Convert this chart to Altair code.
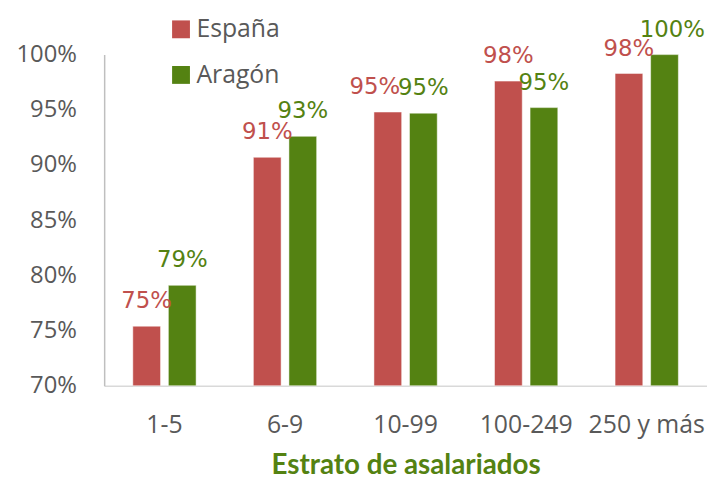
import altair as alt
import pandas as pd

categorias = ["1-5", "6-9", "10-99", "100-249", "250 y más"]
espana = [0.754, 0.907, 0.948, 0.976, 0.983]
aragon = [0.791, 0.926, 0.947, 0.952, 1.0]
series = ["España", "Aragón"]
colores = ["#C0504D", "#548212"]
ticks_y = [0.70, 0.75, 0.80, 0.85, 0.90, 0.95, 1.00]

rows = []
for i, c in enumerate(categorias):
    rows.append({"estrato": c, "serie": series[0], "valor": espana[i]})
    rows.append({"estrato": c, "serie": series[1], "valor": aragon[i]})
df = pd.DataFrame(rows)

x_enc = alt.X(
    "estrato:N",
    sort=categorias,
    scale=alt.Scale(paddingInner=0.475, paddingOuter=0.2375),
    axis=alt.Axis(
        title="Estrato de asalariados",
        labelAngle=0,
        ticks=False,
        domainColor="#D9D9D9",
        domainWidth=1.5,
        labelFont="Open Sans",
        labelFontSize=25,
        labelColor="#595959",
        labelPadding=27,
        titleFont="Lato",
        titleFontSize=28,
        titleFontWeight="bold",
        titleColor="#548212",
        titlePadding=14,
    ),
)
xoff = alt.XOffset("serie:N", sort=series, scale=alt.Scale(paddingInner=0.22, paddingOuter=0))
y_enc = alt.Y(
    "valor:Q",
    scale=alt.Scale(domain=[0.7, 1.0], nice=False, zero=False),
    axis=alt.Axis(
        format=".0%",
        values=ticks_y,
        grid=False,
        ticks=False,
        domainColor="#BFBFBF",
        domainWidth=1.5,
        labelFont="Open Sans",
        labelFontSize=24,
        labelColor="#595959",
        labelPadding=28,
        title=None,
    ),
)
color_scale = alt.Scale(domain=series, range=colores)

bars = alt.Chart(df).mark_bar(stroke="#FFFFFF", strokeOpacity=0.5, strokeWidth=1).encode(
    x=x_enc,
    xOffset=xoff,
    y=y_enc,
    y2=alt.datum(0.7),
    color=alt.Color(
        "serie:N",
        sort=series,
        scale=color_scale,
        legend=alt.Legend(
            title=None,
            orient="none",
            legendX=65,
            legendY=-38,
            symbolType="square",
            symbolSize=324,
            symbolStrokeWidth=0,
            labelFont="Open Sans",
            labelFontSize=25,
            labelColor="#595959",
            labelOffset=3,
            rowPadding=20,
            padding=0,
        ),
    ),
)


def etiquetas(filtro, dx):
    return (
        alt.Chart(df)
        .transform_filter(filtro)
        .mark_text(font="DejaVu Sans", fontSize=23, baseline="alphabetic", dy=-18, dx=dx)
        .encode(
            x=alt.X("estrato:N", sort=categorias),
            xOffset=alt.XOffset("serie:N", sort=series),
            y=alt.Y("valor:Q"),
            text=alt.Text("valor:Q", format=".0%"),
            color=alt.Color("serie:N", sort=series, scale=color_scale, legend=None),
        )
    )


izq = "datum.estrato == '10-99' && datum.serie == 'España'"
der = "datum.estrato == '250 y más' && datum.serie == 'Aragón'"
labels_normal = etiquetas(f"!({izq}) && !({der})", 0)
labels_izq = etiquetas(izq, -13)
labels_der = etiquetas(der, 8)

chart = (
    alt.layer(bars, labels_normal, labels_izq, labels_der)
    .properties(
        width=608,
        height=334,
        autosize=alt.AutoSizeParams(type="none"),
        padding={"left": 97, "top": 45, "right": 0, "bottom": 92},
    )
    .configure_view(stroke=None)
)

chart.save("out.html", embed_options={"renderer": "svg", "actions": False})
